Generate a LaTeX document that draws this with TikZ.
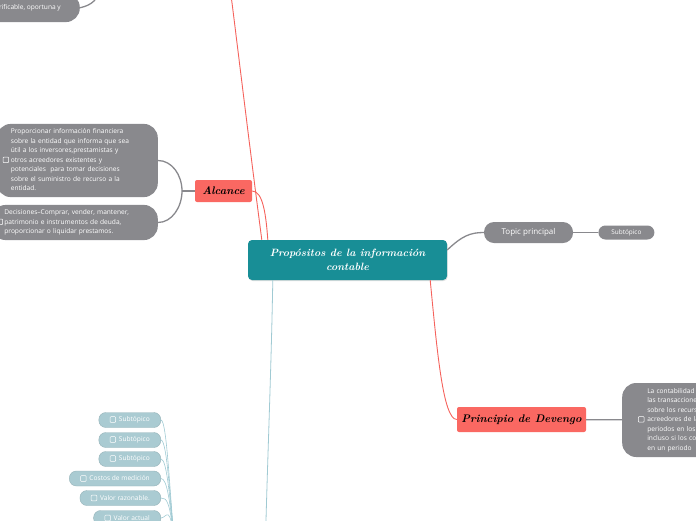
\documentclass[tikz,border=0pt]{standalone}
\usepackage{fontspec}
\setsansfont{Open Sans}
\usepackage{xcolor}
\usepackage{tikz}
\usetikzlibrary{positioning, shadows}
\definecolor{cTeal}{RGB}{24,142,150}
\definecolor{cRed}{RGB}{250,104,98}
\definecolor{cGrey}{RGB}{137,137,141}
\definecolor{cBlue}{RGB}{170,203,210}
\definecolor{cRedLine}{RGB}{245,98,92}
\definecolor{cBlueLine}{RGB}{160,202,211}
\newcommand{\chk}{\tikz[baseline=0pt]\draw[white, line width=0.5pt, rounded corners=0.8pt] (0pt,-0.4pt) rectangle (5.6pt,5.2pt);}
\tikzset{
  maintopic/.style={fill=cTeal, rounded corners=4pt, text=white, align=center,
    font=\bfseries\itshape\fontsize{10.6}{13.5}\selectfont, minimum width=199pt, minimum height=40pt,
    drop shadow={opacity=0.25, shadow xshift=0.6pt, shadow yshift=-1pt}},
  redtopic/.style={fill=cRed, rounded corners=2pt, text=black, font=\bfseries\itshape\fontsize{11}{13}\selectfont, inner sep=0pt},
  greytopic/.style={fill=cGrey, rounded corners=10pt, text=white, font=\sffamily\fontsize{8}{10}\selectfont, inner sep=0pt},
  greynote/.style={fill=cGrey, rounded corners=14pt, text=white, align=left, font=\sffamily\fontsize{6.6}{9.5}\selectfont},
  bluenote/.style={fill=cBlue, draw=cBlue!88!black, line width=0.4pt, rounded corners=7pt, text=white,
    font=\sffamily\fontsize{6.6}{8}\selectfont, minimum height=15pt, inner ysep=0pt, inner xsep=11pt, anchor=east},
  redlink/.style={draw=cRedLine, line width=0.9pt},
  greylink/.style={draw=cGrey, line width=1.3pt},
  bluelink/.style={draw=cBlueLine, line width=0.8pt},
}
\begin{document}
\begin{tikzpicture}[x=1pt, y=-1pt]
    \useasboundingbox (0,0) rectangle (696,520);
    \clip (0,0) rectangle (696,520);
    % central topic and main branches
    \node[maintopic] (main) at (347.5,260) {Propósitos de la información\\contable};
    \node[redtopic, minimum width=57pt, minimum height=22pt] (alcance) at (223.5,191) {Alcance};
    \node[redtopic, minimum width=129pt, minimum height=25pt] (devengo) at (521.5,419.5) {Principio de Devengo};
    \node[greytopic, minimum width=89pt, minimum height=21pt] (topic) at (528.5,232.5) {Topic principal};
    \node[greytopic, rounded corners=7pt, font=\sffamily\fontsize{6.4}{8}\selectfont, minimum width=56pt, minimum height=14pt, right=25pt of topic] (sub) {Subtópico};
    \coordinate (upper) at (231,-5);
    \coordinate (lower) at (265,560);
    \coordinate (hubB) at (175,548);
    \coordinate (upperG) at (101,-14);
    % notes
    \node[greynote, anchor=base east, inner xsep=19pt, inner ysep=11pt, minimum height=0pt] (topnote) at (80,9.5) {verificable, oportuna y};
    \node[greynote, anchor=east, text width=149pt, inner xsep=6pt, minimum height=73pt] (scope) at (158,160.5)
      {\chk\hspace{2pt}\begin{tabular}[c]{@{}l@{}}Proporcionar información financiera\\sobre la entidad que informa que sea\\útil a los inversores,prestamistas y\\otros acreedores existentes y\\potenciales\ \ para tomar decisiones\\sobre el suministro de recurso a la\\entidad.\end{tabular}};
    \node[greynote, anchor=east, text width=156pt, inner xsep=5pt, minimum height=35pt] (decide) at (158,222.5)
      {\chk\hspace{1.5pt}\begin{tabular}[c]{@{}l@{}}Decisiones–Comprar, vender, mantener,\\patrimonio e instrumentos de deuda,\\proporcionar o liquidar prestamos.\end{tabular}};
    \node[greynote, anchor=west, text width=150pt, inner xsep=16pt, minimum height=74pt] (accrual) at (622,420)
      {\chk\hspace{3pt}\begin{tabular}[c]{@{}l@{}}La contabilidad de\\las transacciones\\sobre los recursos\\acreedores de la\\periodos en los\\incluso si los cobros\\en un periodo\end{tabular}};
    % measurement subtopics
    \node[bluenote] (m1) at (161,420) {\chk\hspace{3pt}Subtópico};
    \node[bluenote] (m2) at (161,440) {\chk\hspace{3pt}Subtópico};
    \node[bluenote] (m3) at (161,459) {\chk\hspace{3pt}Subtópico};
    \node[bluenote] (m4) at (161,478.5) {\chk\hspace{3pt}Costos de medición};
    \node[bluenote] (m5) at (161,498) {\chk\hspace{3pt}Valor razonable.};
    \node[bluenote] (m6) at (161,518) {\chk\hspace{3pt}Valor actual};
    % connectors
    \draw[redlink] ([xshift=14pt]main.north west) .. controls (250,150) and (238,50) .. (upper);
    \draw[redlink] (alcance.east) .. controls (263,191) and (266,215) .. ([xshift=20pt]main.north west);
    \draw[redlink] ([xshift=-17pt]main.south east) .. controls (437,350) and (443,419.5) .. (devengo.west);
    \draw[bluelink] ([xshift=25pt]main.south west) .. controls (271,380) and (267,470) .. (lower);
    \draw[greylink] ([yshift=10pt]main.east) .. controls (462,236) and (470,232.5) .. (topic.west);
    \draw[greylink] (topic) -- (sub);
    \draw[greylink] (devengo) -- (accrual);
    \draw[greylink] (alcance.west) -- (182,191) coordinate (brk);
    \draw[greylink] (brk) .. controls (182,175) and (172,160.5) .. (scope.east);
    \draw[greylink] (brk) .. controls (182,207) and (172,222.5) .. (decide.east);
    \draw[greylink] (topnote.east) .. controls (92,5) and (98,0) .. (upperG);
    \foreach \n in {m1,m2,m3,m4,m5,m6}
      \draw[bluelink, line width=0.6pt] (\n.east) .. controls +(6,0) and (170,500) .. (hubB);
\end{tikzpicture}
\end{document}
